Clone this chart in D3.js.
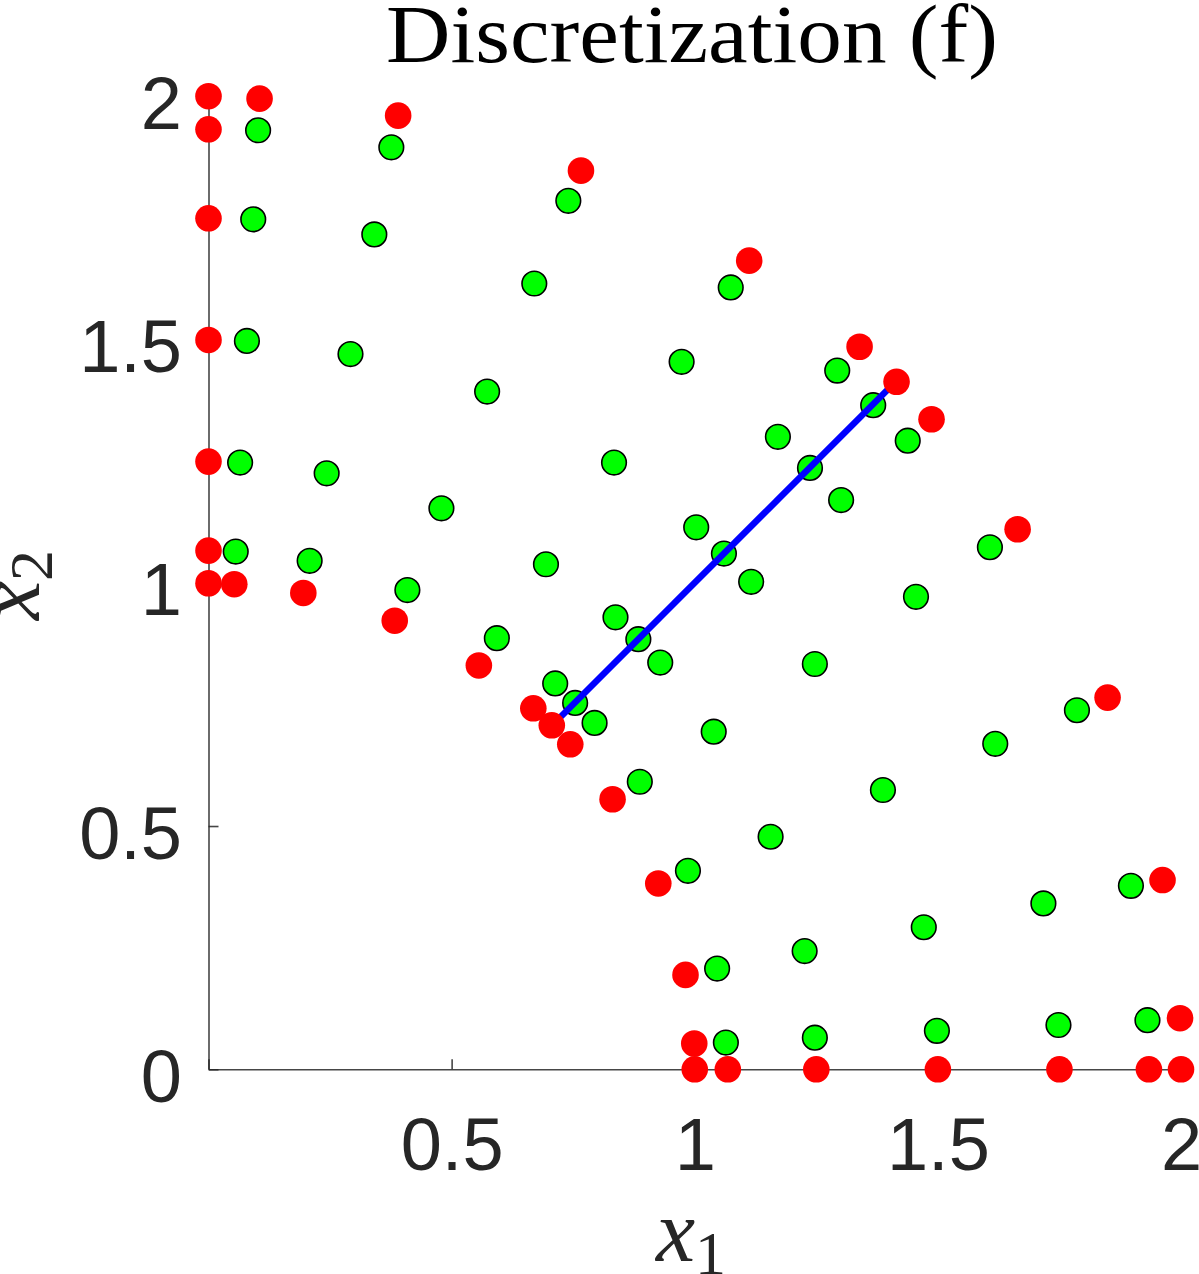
<!DOCTYPE html>
<html>
<head>
<meta charset="utf-8">
<script src="https://cdn.jsdelivr.net/npm/d3@7"></script>
<style>
  html, body { margin: 0; padding: 0; background: #fff; }
  svg { display: block; }
</style>
</head>
<body>
<script>
let W = 1199, H = 1274;
let margin = {left: 208.5, right: 18, top: 96.2, bottom: 204.7};

// discretization samples (red) and interior points (green)
let redX = [0, 0.105, 0, 0.390, 0.766, 0, 0, 1.112, 1.339, 1.415, 1.487, 1.664, 1.849,
            0, 0, 0, 0.053, 0.195, 0.383, 0.556, 0.668, 0.706, 0.744, 0.831, 0.925,
            0.981, 0.999, 1.0, 1.068, 1.25, 1.5, 1.75, 1.934, 2.0, 1.962, 1.998];
let redY = [2.0, 1.995, 1.932, 1.960, 1.847, 1.749, 1.499, 1.662, 1.485, 1.413, 1.336, 1.110, 0.764,
            1.249, 1.066, 0.999, 0.997, 0.979, 0.922, 0.830, 0.742, 0.707, 0.668, 0.555, 0.382,
            0.194, 0.053, 0, 0, 0, 0, 0, 0, 0, 0.389, 0.105];

let greenX = [0.102, 0.376, 0.740, 0.092, 0.341, 0.670, 0.079, 0.292, 0.573, 1.074, 0.973, 1.293,
              1.367, 0.065, 0.243, 0.479, 0.056, 0.208, 0.694, 0.409, 0.593, 0.713, 0.754, 0.794,
              0.834, 1.171, 1.237, 1.438, 1.301, 1.003, 1.060, 1.116, 1.607, 1.455, 0.837, 0.884,
              0.929, 1.247, 1.786, 1.039, 1.618, 0.887, 1.387, 1.156, 0.986, 1.897, 1.717, 1.471,
              1.226, 1.046, 1.064, 1.247, 1.498, 1.748, 1.931];
let greenY = [1.930, 1.895, 1.785, 1.747, 1.716, 1.615, 1.497, 1.470, 1.393, 1.607, 1.454, 1.436,
              1.365, 1.247, 1.225, 1.153, 1.064, 1.045, 1.038, 0.985, 0.886, 0.793, 0.753, 0.712,
              1.247, 1.300, 1.236, 1.292, 1.170, 1.114, 1.060, 1.002, 1.073, 0.971, 0.929, 0.884,
              0.836, 0.833, 0.738, 0.694, 0.669, 0.591, 0.574, 0.478, 0.408, 0.377, 0.341, 0.292,
              0.243, 0.207, 0.055, 0.065, 0.079, 0.091, 0.101];

// blue segment
let lineX = [0.707, 1.414];
let lineY = [0.707, 1.414];

let xTicks = [0, 0.5, 1, 1.5, 2];
let xTickLabels = ["", "0.5", "1", "1.5", "2"];
let yTicks = [0, 0.5, 1, 1.5, 2];
let yTickLabels = ["0", "0.5", "1", "1.5", "2"];

let svg = d3.select("body").append("svg").attr("width", W).attr("height", H);

let x = d3.scaleLinear().domain([0, 2]).range([margin.left, W - margin.right]);
let y = d3.scaleLinear().domain([0, 2]).range([H - margin.bottom, margin.top]);

let axisColor = "#262626";
let tickFont = "'Liberation Sans', Arial, Helvetica, sans-serif";
let texFont = "'Liberation Serif', 'Times New Roman', serif";

// axes (MATLAB style: inward ticks, no box)
let xAxis = d3.axisBottom(x).tickValues(xTicks).tickSizeInner(-10).tickSizeOuter(0)
              .tickFormat((d, i) => xTickLabels[i]);
let yAxis = d3.axisLeft(y).tickValues(yTicks).tickSizeInner(-10).tickSizeOuter(0)
              .tickFormat((d, i) => yTickLabels[i]);

let gx = svg.append("g").attr("transform", "translate(0," + y(0) + ")").call(xAxis);
let gy = svg.append("g").attr("transform", "translate(" + x(0) + ",0)").call(yAxis);

[gx, gy].forEach(g => {
  g.select(".domain").attr("stroke", axisColor).attr("stroke-width", 1.6).attr("opacity", 0.85);
  g.selectAll(".tick line").attr("stroke", axisColor).attr("stroke-width", 1.6).attr("opacity", 0.85);
  g.selectAll(".tick text").attr("fill", axisColor).attr("font-family", tickFont).attr("font-size", 74);
});
gx.selectAll(".tick text").attr("dy", null).attr("y", 101);
gy.selectAll(".tick text").attr("dy", null).attr("x", -26.5).attr("y", 32);

// green points
svg.append("g").selectAll("circle")
  .data(greenX.map((d, i) => [d, greenY[i]]))
  .join("circle")
  .attr("cx", d => x(d[0]))
  .attr("cy", d => y(d[1]))
  .attr("r", 12.3)
  .attr("fill", "#00ff00")
  .attr("stroke", "#000")
  .attr("stroke-width", 1.6);

// blue line
let line = d3.line().x(d => x(d[0])).y(d => y(d[1]));
svg.append("path")
  .datum(lineX.map((d, i) => [d, lineY[i]]))
  .attr("d", line)
  .attr("fill", "none")
  .attr("stroke", "#0000ff")
  .attr("stroke-width", 6.5);

// red points
svg.append("g").selectAll("circle")
  .data(redX.map((d, i) => [d, redY[i]]))
  .join("circle")
  .attr("cx", d => x(d[0]))
  .attr("cy", d => y(d[1]))
  .attr("r", 13.3)
  .attr("fill", "#ff0000");

// title
svg.append("text")
  .attr("x", 692).attr("y", 62)
  .attr("text-anchor", "middle")
  .attr("font-family", texFont)
  .attr("font-size", 82)
  .attr("textLength", 612)
  .attr("lengthAdjust", "spacingAndGlyphs")
  .attr("fill", "#000")
  .text("Discretization (f)");

// axis labels
let xl = svg.append("text")
  .attr("x", 691).attr("y", 1261)
  .attr("text-anchor", "middle")
  .attr("font-family", texFont)
  .attr("fill", axisColor);
xl.append("tspan").attr("font-style", "italic").attr("font-size", 88).text("x");
xl.append("tspan").attr("font-size", 62).attr("dy", 13).text("1");

let yl = svg.append("text")
  .attr("transform", "translate(39,585) rotate(-90)")
  .attr("text-anchor", "middle")
  .attr("font-family", texFont)
  .attr("fill", axisColor);
yl.append("tspan").attr("font-style", "italic").attr("font-size", 88).text("x");
yl.append("tspan").attr("font-size", 62).attr("dy", 13).text("2");
</script>
</body>
</html>
